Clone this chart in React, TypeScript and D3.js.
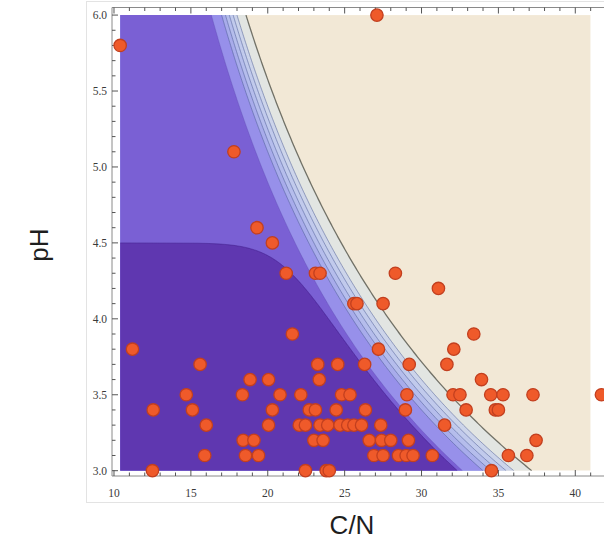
import React, { useEffect, useRef } from "react";
import * as d3 from "d3";

const W = 604;
const H = 546;

// axis ticks
const xTicksMajor = [10, 15, 20, 25, 30, 35, 40];
const yTicksMajor = [3.0, 3.5, 4.0, 4.5, 5.0, 5.5, 6.0];
const xMinorTicks = d3.range(10, 42, 1);
const yMinorTicks = d3.range(30, 61, 1).map((v) => v / 10);

// contour model region and levels (C/N * pH iso-lines)
const regionCN = [10.4, 41.0];
const regionPH = [3.0, 6.0];
const bandLevels = [98, 102, 103.5, 105, 106.5, 108, 111.5];
const bandFills = ["#7a60d4", "#9790ea", "#a8aceb", "#b5bdec", "#c1caec", "#ccd4ea", "#e2e5e2"];
const beige = "#f2e8d6";
const darkPH = 4.5;
const darkLevel = 97;
const darkSharpness = 15;
const darkFill = "#5f37b0";

// observations (C/N values grouped by pH)
const ph60 = [27.1];
const ph58 = [10.4];
const ph51 = [17.8];
const ph46 = [19.3];
const ph45 = [20.3];
const ph43 = [21.2, 23.1, 23.4, 28.3];
const ph42 = [31.1];
const ph41 = [25.6, 25.8, 27.5];
const ph39 = [21.6, 33.4];
const ph38 = [11.2, 27.2, 32.1];
const ph37 = [15.6, 23.25, 24.55, 26.3, 29.2, 31.65];
const ph36 = [18.85, 20.05, 23.35, 33.9];
const ph35 = [14.7, 18.35, 20.8, 22.15, 24.8, 25.35, 29.05, 32.05, 32.5, 34.5, 35.3, 37.25, 41.7];
const ph34 = [12.55, 15.1, 20.3, 22.7, 23.1, 24.45, 26.35, 28.95, 32.9, 34.8, 35.0];
const ph33 = [16.0, 20.05, 22.05, 22.45, 23.4, 23.9, 24.7, 25.2, 25.6, 26.1, 27.35, 31.5];
const ph32 = [18.4, 19.1, 23.0, 23.6, 26.6, 27.4, 28.0, 29.15, 37.45];
const ph31 = [15.9, 18.55, 19.4, 26.9, 27.5, 28.5, 29.0, 29.45, 30.7, 35.65, 36.85];
const ph30 = [12.5, 22.45, 23.8, 24.0, 34.55];

const rows: [number, number[]][] = [
  [6.0, ph60], [5.8, ph58], [5.1, ph51], [4.6, ph46], [4.5, ph45], [4.3, ph43],
  [4.2, ph42], [4.1, ph41], [3.9, ph39], [3.8, ph38], [3.7, ph37], [3.6, ph36],
  [3.5, ph35], [3.4, ph34], [3.3, ph33], [3.2, ph32], [3.1, ph31], [3.0, ph30],
];

export default function App() {
  const ref = useRef<SVGSVGElement>(null);

  useEffect(() => {
    const svg = d3.select(ref.current);
    svg.selectAll("*").remove();

    const x = d3.scaleLinear().domain([9.87, 41.9]).range([112, 604.5]);
    const y = d3.scaleLinear().domain([2.965, 6.05]).range([476, 7.5]);

    // faint outer box
    svg.append("rect")
      .attr("x", 86.5).attr("y", 1.5).attr("width", 530).attr("height", 501)
      .attr("fill", "none").attr("stroke", "#e3e3e3").attr("stroke-width", 1);

    const defs = svg.append("defs");
    defs.append("clipPath").attr("id", "plotclip").append("rect")
      .attr("x", x(regionCN[0])).attr("y", y(regionPH[1]))
      .attr("width", x(regionCN[1]) - x(regionCN[0]))
      .attr("height", y(regionPH[0]) - y(regionPH[1]));

    const g = svg.append("g").attr("clip-path", "url(#plotclip)");
    g.append("rect")
      .attr("x", x(regionCN[0])).attr("y", y(regionPH[1]))
      .attr("width", x(regionCN[1]) - x(regionCN[0]))
      .attr("height", y(regionPH[0]) - y(regionPH[1]))
      .attr("fill", beige);

    const phSamples = d3.range(0, 301).map((i) => regionPH[0] + (i * (regionPH[1] - regionPH[0])) / 300);

    for (let i = bandLevels.length - 1; i >= 0; i--) {
      const k = bandLevels[i];
      const area = d3.area<number>()
        .y((d) => y(d))
        .x0(x(regionCN[0]))
        .x1((d) => x(Math.min(k / d, regionCN[1])));
      g.append("path").attr("d", area(phSamples) as string).attr("fill", bandFills[i]);
    }

    // dark region: pH below threshold and C/N*pH below level (smoothly joined)
    const darkX = (ph: number) => {
      const r = Math.pow(ph / darkPH, darkSharpness);
      if (r >= 1) return regionCN[0];
      const u = darkLevel * Math.pow(1 - r, 1 / darkSharpness);
      return Math.max(regionCN[0], Math.min(u / ph, regionCN[1]));
    };
    const darkSamples = d3.range(0, 751).map((i) => regionPH[0] + (i * (darkPH - regionPH[0])) / 750);
    const darkArea = d3.area<number>()
      .y((d) => y(d))
      .x0(x(regionCN[0]))
      .x1((d) => x(darkX(d)));
    g.append("path").attr("d", darkArea(darkSamples) as string).attr("fill", darkFill);
    const darkLine = d3.line<number>().y((d) => y(d)).x((d) => x(darkX(d)));
    g.append("path").attr("d", darkLine(darkSamples) as string)
      .attr("fill", "none").attr("stroke", "rgba(60,25,130,0.45)").attr("stroke-width", 1);

    // contour lines
    bandLevels.forEach((k, i) => {
      const line = d3.line<number>().y((d) => y(d)).x((d) => x(k / d));
      const outer = i === bandLevels.length - 1;
      g.append("path").attr("d", line(phSamples) as string)
        .attr("fill", "none")
        .attr("stroke", outer ? "rgba(100,100,90,0.9)" : i === 0 ? "rgba(90,70,170,0.35)" : "rgba(80,95,150,0.6)")
        .attr("stroke-width", outer ? 1.3 : 0.9);
    });

    // frame
    const fx0 = 112, fx1 = 604.5, fy0 = 7.5, fy1 = 476;
    const frame = svg.append("g").attr("stroke", "#8a8a8a").attr("stroke-width", 1).attr("fill", "none");
    frame.append("line").attr("x1", fx0).attr("x2", fx1).attr("y1", fy1).attr("y2", fy1);
    frame.append("line").attr("x1", fx0).attr("x2", fx1).attr("y1", fy0).attr("y2", fy0);
    frame.append("line").attr("x1", fx0).attr("x2", fx0).attr("y1", fy0).attr("y2", fy1);

    const ticks = svg.append("g").attr("stroke", "#555").attr("stroke-width", 1);
    xMinorTicks.forEach((v) => {
      const major = xTicksMajor.includes(v);
      const len = major ? 6 : 3.5;
      ticks.append("line").attr("x1", x(v)).attr("x2", x(v)).attr("y1", fy1).attr("y2", fy1 - len);
      ticks.append("line").attr("x1", x(v)).attr("x2", x(v)).attr("y1", fy0).attr("y2", fy0 + len);
    });
    yMinorTicks.forEach((v) => {
      const major = yTicksMajor.some((m) => Math.abs(m - v) < 1e-6);
      const len = major ? 6 : 3.5;
      ticks.append("line").attr("x1", fx0).attr("x2", fx0 + len).attr("y1", y(v)).attr("y2", y(v));
    });

    const lab = svg.append("g")
      .attr("font-family", "'Liberation Serif', 'DejaVu Serif', serif")
      .attr("font-size", 11.5).attr("fill", "#3a3a3a");
    xTicksMajor.forEach((v) => {
      lab.append("text").attr("x", x(v)).attr("y", 497).attr("text-anchor", "middle").text(String(v));
    });
    yTicksMajor.forEach((v) => {
      lab.append("text").attr("x", 107).attr("y", y(v)).attr("dy", "0.35em")
        .attr("text-anchor", "end").text(v.toFixed(1));
    });

    // points
    const pts: { cn: number; ph: number }[] = [];
    rows.forEach(([ph, arr]) => arr.forEach((cn) => pts.push({ cn, ph })));
    svg.append("g").selectAll("circle").data(pts).join("circle")
      .attr("cx", (d) => x(d.cn)).attr("cy", (d) => y(d.ph)).attr("r", 6.2)
      .attr("fill", "#ef5a2a").attr("stroke", "#c23f1f").attr("stroke-width", 1.3);

    // axis titles
    svg.append("text")
      .attr("transform", "translate(48,245) rotate(-90)")
      .attr("text-anchor", "middle")
      .attr("font-family", "'Liberation Sans', Arial, sans-serif")
      .attr("font-size", 26).attr("fill", "#1e1e1e").text("pH");
    svg.append("text")
      .attr("x", 352).attr("y", 534).attr("text-anchor", "middle")
      .attr("font-family", "'Liberation Sans', Arial, sans-serif")
      .attr("font-size", 26).attr("fill", "#1e1e1e").text("C/N");
  }, []);

  return (
    <svg
      ref={ref}
      width={W}
      height={H}
      style={{ position: "absolute", left: 0, top: 0, background: "#ffffff" }}
    />
  );
}
